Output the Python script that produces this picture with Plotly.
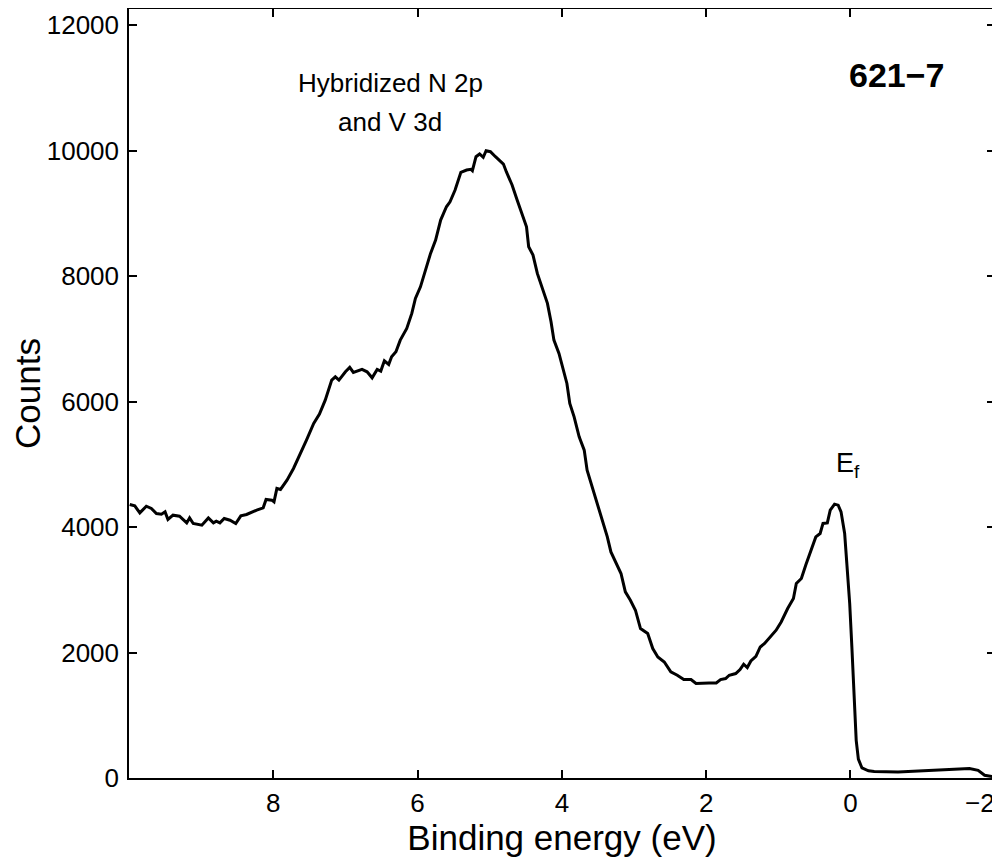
import plotly.graph_objects as go

energy = [9.99, 9.92, 9.85, 9.76, 9.69, 9.62, 9.55, 9.50, 9.46, 9.39, 9.30, 9.20, 9.16, 9.11, 8.99,
          8.90, 8.83, 8.79, 8.74, 8.68, 8.60, 8.52, 8.45, 8.37, 8.23, 8.14, 8.10, 8.02, 7.99, 7.95,
          7.90, 7.81, 7.72, 7.63, 7.54, 7.44, 7.36, 7.28, 7.19, 7.14, 7.09, 7.00, 6.94, 6.89, 6.77,
          6.70, 6.63, 6.56, 6.51, 6.46, 6.40, 6.36, 6.30, 6.24, 6.15, 6.08, 6.03, 5.96, 5.89, 5.82,
          5.75, 5.68, 5.60, 5.55, 5.48, 5.40, 5.32, 5.26, 5.24, 5.19, 5.14, 5.09, 5.05, 4.99, 4.92,
          4.81, 4.77, 4.69, 4.62, 4.55, 4.49, 4.46, 4.40, 4.34, 4.27, 4.20, 4.15, 4.11, 4.04, 3.97,
          3.93, 3.89, 3.83, 3.76, 3.69, 3.65, 3.58, 3.51, 3.44, 3.37, 3.32, 3.25, 3.18, 3.12, 3.05,
          2.98, 2.91, 2.81, 2.74, 2.67, 2.58, 2.49, 2.40, 2.31, 2.21, 2.14, 2.05, 1.96, 1.86, 1.80,
          1.73, 1.68, 1.59, 1.53, 1.48, 1.43, 1.38, 1.31, 1.25, 1.19, 1.03, 0.96, 0.87, 0.79, 0.75,
          0.68, 0.62, 0.54, 0.48, 0.42, 0.38, 0.32, 0.28, 0.22, 0.17, 0.13, 0.08, 0.05, 0.01, -0.02,
          -0.05, -0.08, -0.11, -0.16, -0.25, -0.33, -0.66, -0.98, -1.26, -1.49, -1.65, -1.77, -1.86, -2.00]

counts = [4361, 4338, 4227, 4333, 4297, 4217, 4206, 4243, 4121, 4190, 4174, 4067, 4147, 4058, 4031,
          4147, 4067, 4094, 4067, 4137, 4110, 4058, 4179, 4201, 4270, 4307, 4441, 4429, 4402, 4616,
          4600, 4748, 4935, 5147, 5386, 5652, 5801, 6024, 6343, 6396, 6343, 6476, 6546, 6466, 6514,
          6476, 6380, 6514, 6487, 6651, 6594, 6715, 6795, 6981, 7168, 7407, 7646, 7831, 8098, 8364,
          8576, 8895, 9107, 9187, 9374, 9656, 9693, 9704, 9682, 9905, 9948, 9895, 10001, 9985, 9905,
          9788, 9666, 9454, 9214, 8975, 8788, 8470, 8337, 8045, 7806, 7567, 7273, 6981, 6769, 6450,
          6290, 5972, 5758, 5439, 5227, 4908, 4641, 4350, 4110, 3844, 3605, 3420, 3260, 2967, 2834,
          2675, 2383, 2303, 2064, 1930, 1850, 1691, 1638, 1569, 1569, 1506, 1515, 1515, 1515, 1569,
          1585, 1638, 1665, 1729, 1814, 1761, 1866, 1940, 2089, 2144, 2356, 2488, 2702, 2861, 3101,
          3180, 3393, 3632, 3844, 3898, 4058, 4067, 4270, 4366, 4350, 4243, 3898, 3420, 2782, 2089,
          1250, 600, 300, 160, 115, 105, 96, 112, 123, 134, 150, 123, 43, 16]

x_ticks = [8, 6, 4, 2, 0, -2]
x_tick_labels = ["8", "6", "4", "2", "0", ""]   # last label drawn as annotation (edge of page)
last_x_label = "\u22122"
y_ticks = [0, 2000, 4000, 6000, 8000, 10000, 12000]
y_tick_labels = ["0", "2000", "4000", "6000", "8000", "10000", "12000"]

font_family = "Liberation Sans, Arial, Helvetica, sans-serif"

fig = go.Figure()
fig.add_trace(go.Scatter(x=energy, y=counts, mode="lines",
                         line=dict(color="black", width=3), showlegend=False))

axis_common = dict(showline=True, linecolor="black", linewidth=1.5, mirror="allticks",
                   ticks="inside", ticklen=8, tickwidth=1.5, tickcolor="black",
                   showgrid=False, zeroline=False, automargin=False,
                   ticklabeloverflow="allow",
                   tickfont=dict(family=font_family, size=26, color="black"))

fig.update_xaxes(range=[10, -2.004], tickvals=x_ticks, ticktext=x_tick_labels,
                 title=dict(text="Binding energy (eV)", standoff=4,
                            font=dict(family=font_family, size=35, color="black")),
                 ticklabelstandoff=1, **axis_common)
fig.update_yaxes(range=[0, 12260], tickvals=y_ticks, ticktext=y_tick_labels,
                 title=dict(text="Counts", standoff=12,
                            font=dict(family=font_family, size=35, color="black")),
                 ticklabelstandoff=3, **axis_common)

fig.add_annotation(x=x_ticks[-1], y=0, xref="x", yref="paper", text=last_x_label,
                   showarrow=False, xanchor="right", yanchor="middle", xshift=2, yshift=-25,
                   font=dict(family=font_family, size=26, color="black"))
fig.add_annotation(x=6.38, y=11080, text="Hybridized N 2p", showarrow=False,
                   font=dict(family=font_family, size=26, color="black"))
fig.add_annotation(x=6.38, y=10458, text="and V 3d", showarrow=False,
                   font=dict(family=font_family, size=26, color="black"))
fig.add_annotation(x=0.03, y=4988, text="E<sub>f</sub>", showarrow=False,
                   font=dict(family=font_family, size=27, color="black"))
fig.add_annotation(x=-0.65, y=11208, text="<b>621\u22127</b>", showarrow=False,
                   font=dict(family=font_family, size=34, color="black"))

# page body has an 8px default margin, so the figure is shrunk to fit the window
fig.update_layout(width=992, height=849, plot_bgcolor="white", paper_bgcolor="white",
                  margin=dict(l=121, r=5, t=1, b=79))

fig.write_html("out.html")
